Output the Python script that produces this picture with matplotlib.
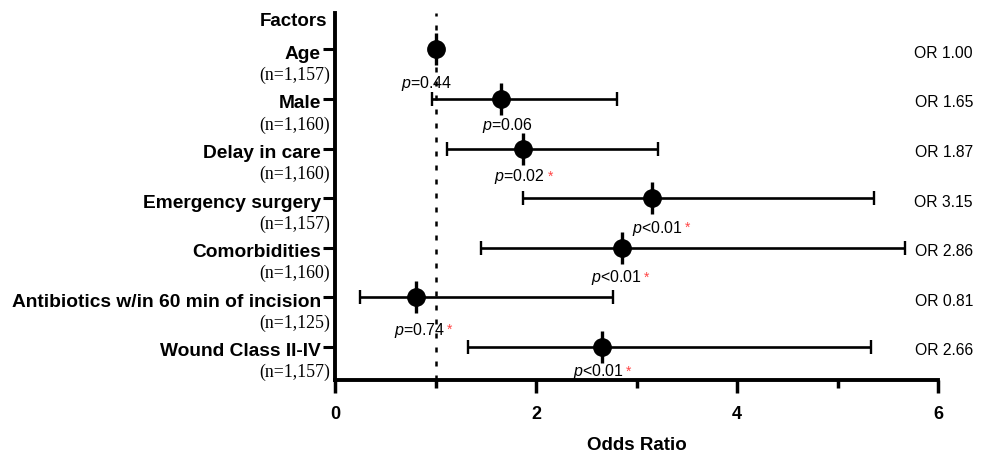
import matplotlib
matplotlib.use("Agg")
import matplotlib.pyplot as plt
import numpy as np

# ---- data ----
factors = ["Age", "Male", "Delay in care", "Emergency surgery", "Comorbidities",
           "Antibiotics w/in 60 min of incision", "Wound Class II-IV"]
n_labels = ["(n=1,157)", "(n=1,160)", "(n=1,160)", "(n=1,157)", "(n=1,160)",
            "(n=1,125)", "(n=1,157)"]
odds_ratio = [1.00, 1.65, 1.87, 3.15, 2.86, 0.81, 2.66]
ci_low = [0.99, 0.97, 1.11, 1.87, 1.45, 0.25, 1.32]
ci_high = [1.01, 2.81, 3.21, 5.36, 5.67, 2.77, 5.33]
p_text = ["=0.44", "=0.06", "=0.02", "<0.01", "<0.01", "=0.74", "<0.01"]
p_star = [False, False, True, True, True, True, True]
or_text = ["OR 1.00", "OR 1.65", "OR 1.87", "OR 3.15", "OR 2.86", "OR 0.81", "OR 2.66"]
x_ticks = [0, 2, 4, 6]

# layout tweaks for the p-value labels (pixels)
p_dx = [-9, 7, -3, 6, -6, 3, -4]
p_dy = [34, 27, 28, 30, 30, 33, 25]

plt.rcParams['font.family'] = ['Liberation Sans', 'DejaVu Sans']
plt.rcParams['mathtext.fontset'] = 'custom'
plt.rcParams['mathtext.it'] = 'Liberation Sans:italic'
plt.rcParams['mathtext.rm'] = 'Liberation Sans'

DPI = 100
PX = 72.0 / DPI  # points per pixel

fig = plt.figure(figsize=(9.83, 4.55), dpi=DPI)
ax = fig.add_axes([335 / 983, 1 - 380 / 455, (938 - 335) / 983, (380 - 12.7) / 455])

nrows = len(factors)
ypos = np.arange(nrows, 0, -1)  # Age at top

ax.set_xlim(0, 6)
ax.set_ylim(0.33, 7.74)

# reference line
ax.axvline(1, color='black', lw=1.8, linestyle=(0, (2.0, 3.6)), zorder=1)

orr = np.array(odds_ratio)
lo = np.array(ci_low)
hi = np.array(ci_high)
ax.errorbar(orr, ypos, xerr=[orr - lo, hi - orr], fmt='o', color='black',
            ms=12.5, elinewidth=1.9, capsize=5, capthick=1.7, zorder=3)
ax.plot(orr, ypos, marker='|', ms=23.5, mew=2.4, ls='none', color='black', zorder=4)

# spines / ticks
for s in ['top', 'right']:
    ax.spines[s].set_visible(False)
for s in ['left', 'bottom']:
    ax.spines[s].set_linewidth(2.8)

ax.set_xticks(x_ticks)
ax.set_xticks([1, 3, 5], minor=True)
ax.set_xticklabels([str(t) for t in x_ticks], fontsize=13, fontweight='bold')
ax.tick_params(axis='x', which='major', direction='out', length=9, width=2.5, pad=10)
ax.tick_params(axis='x', which='minor', direction='out', length=5.8, width=2.5)
ax.set_yticks(ypos)
ax.set_yticklabels([])
ax.tick_params(axis='y', which='major', direction='out', length=8.6, width=2.2)

ax.set_xlabel("Odds Ratio", fontsize=13.5, fontweight='bold', labelpad=10)

# row labels
for i, y in enumerate(ypos):
    ax.annotate(factors[i], xy=(0, y), xycoords=('axes fraction', 'data'),
                xytext=(-14 * PX, -5 * PX), textcoords='offset points',
                ha='right', va='center', fontsize=13.8, fontweight='bold')
    ax.annotate(n_labels[i], xy=(0, y), xycoords=('axes fraction', 'data'),
                xytext=(-5 * PX, -26 * PX), textcoords='offset points',
                ha='right', va='center', fontsize=12.8,
                family=['Liberation Serif', 'DejaVu Serif'])
    ax.annotate(or_text[i], xy=(1, y), xycoords=('axes fraction', 'data'),
                xytext=(35 * PX, -4 * PX), textcoords='offset points',
                ha='right', va='center', fontsize=11.3)

ax.annotate("Factors", xy=(0, 1), xycoords='axes fraction',
            xytext=(-8 * PX, -8.3 * PX), textcoords='offset points',
            ha='right', va='center', fontsize=13.5, fontweight='bold')

# p-value labels
p_texts = []
for i, y in enumerate(ypos):
    t = ax.annotate(r"$\mathit{p}$" + p_text[i], xy=(odds_ratio[i], y), xycoords='data',
                    xytext=(p_dx[i] * PX, -p_dy[i] * PX), textcoords='offset points',
                    ha='center', va='center', fontsize=11.5, zorder=5)
    p_texts.append(t)

fig.canvas.draw()
renderer = fig.canvas.get_renderer()
for i, t in enumerate(p_texts):
    if not p_star[i]:
        continue
    bb = t.get_window_extent(renderer)
    x_disp = bb.x1 + 2
    y_disp = (bb.y0 + bb.y1) / 2
    fig.text(x_disp / fig.bbox.width, y_disp / fig.bbox.height, "*",
             color='#ff4646', fontsize=10, ha='left', va='center')

fig.savefig("out.png", dpi=DPI)
